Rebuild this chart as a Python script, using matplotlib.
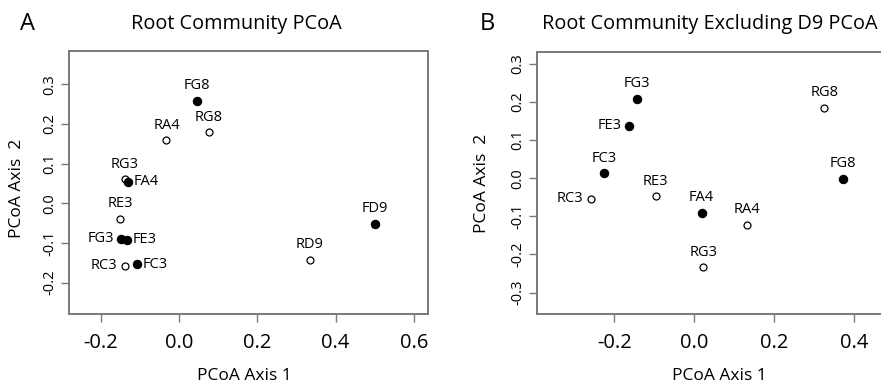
import matplotlib
matplotlib.use("Agg")
import matplotlib.pyplot as plt

plt.rcParams['font.family'] = ['Open Sans', 'DejaVu Sans']

# Panel A data
a_labels = ["FG8", "RG8", "RA4", "RG3", "FA4", "RE3", "FG3", "FE3", "RC3", "FC3", "RD9", "FD9"]
a_x = [0.045, 0.077, -0.032, -0.139, -0.129, -0.150, -0.148, -0.133, -0.139, -0.108, 0.334, 0.501]
a_y = [0.258, 0.179, 0.159, 0.061, 0.054, -0.039, -0.089, -0.092, -0.157, -0.153, -0.142, -0.052]
a_filled = [True, False, False, False, True, False, True, True, False, True, False, True]
a_pos = ["top", "top", "top", "top", "right", "top", "left", "right", "left", "right", "top", "top"]

# Panel B data
b_labels = ["FG3", "FE3", "FC3", "RC3", "RE3", "FA4", "RA4", "RG3", "RG8", "FG8"]
b_x = [-0.143, -0.163, -0.226, -0.259, -0.096, 0.019, 0.133, 0.023, 0.326, 0.372]
b_y = [0.208, 0.138, 0.013, -0.054, -0.047, -0.091, -0.123, -0.234, 0.185, -0.001]
b_filled = [True, True, True, False, False, True, False, False, False, True]
b_pos = ["top", "left", "top", "left", "top", "top", "top", "top", "top", "top"]

a_xticks = [-0.2, 0.0, 0.2, 0.4, 0.6]
a_yticks = [-0.2, -0.1, 0.0, 0.1, 0.2, 0.3]
b_xticks = [-0.2, 0.0, 0.2, 0.4]
b_yticks = [-0.3, -0.2, -0.1, 0.0, 0.1, 0.2, 0.3]

W, H = 881, 386
fig = plt.figure(figsize=(W / 100, H / 100), dpi=100)

box_col = "#7a7a7a"


def make_panel(rect, xs, ys, filled, labels, pos, xlim, ylim, xticks, yticks):
    ax = fig.add_axes(rect)
    for x, y, f, lab, p in zip(xs, ys, filled, labels, pos):
        if f:
            ax.plot([x], [y], marker='o', ms=6.0, mfc='black', mec='black', mew=0.8, ls='none')
        else:
            ax.plot([x], [y], marker='o', ms=5.0, mfc='white', mec='black', mew=0.9, ls='none')
        if p == "top":
            ax.annotate(lab, (x, y), xytext=(0, 5.5), textcoords='offset points',
                        ha='center', va='bottom', fontsize=10.5, color='black')
        elif p == "left":
            ax.annotate(lab, (x, y), xytext=(-5, 0), textcoords='offset points',
                        ha='right', va='center', fontsize=10.5, color='black')
        else:
            ax.annotate(lab, (x, y), xytext=(4, 0), textcoords='offset points',
                        ha='left', va='center', fontsize=10.5, color='black')
    ax.set_xlim(*xlim)
    ax.set_ylim(*ylim)
    ax.set_xticks(xticks)
    ax.set_xticklabels([f"{t:.1f}" for t in xticks], fontsize=14.5)
    ax.set_yticks(yticks)
    ax.set_yticklabels([f"{t:.1f}" for t in yticks], fontsize=10.5, rotation=90, va='center')
    ax.tick_params(direction='out', length=5.5, width=1.0, color=box_col, pad=3)
    ax.tick_params(axis='x', pad=8)
    for s in ax.spines.values():
        s.set_color(box_col)
        s.set_linewidth(1.4)
    return ax


axA = make_panel([69 / W, 1 - 314 / H, (428.3 - 69) / W, (314 - 50.7) / H],
                 a_x, a_y, a_filled, a_labels, a_pos,
                 (-0.281, 0.637), (-0.279, 0.385), a_xticks, a_yticks)
# Panel B box is cut off by the right edge of the figure
axB = make_panel([536.7 / W, 1 - 314.3 / H, (W - 536.7) / W, (314.3 - 51.7) / H],
                 b_x, b_y, b_filled, b_labels, b_pos,
                 (-0.394, 0.468), (-0.357, 0.332), b_xticks, b_yticks)
axB.spines['right'].set_visible(False)

# Titles and panel letters
fig.text(236.7 / W, 1 - 24 / H, "Root Community PCoA", ha='center', va='center', fontsize=14.3)
fig.text(710 / W, 1 - 24 / H, "Root Community Excluding D9 PCoA", ha='center', va='center', fontsize=14.3)
fig.text(27 / W, 1 - 24 / H, "A", ha='center', va='center', fontsize=17)
fig.text(487 / W, 1 - 24 / H, "B", ha='center', va='center', fontsize=17)

# Axis labels
fig.text(244.7 / W, 1 - 376 / H, "PCoA Axis 1", ha='center', va='center', fontsize=12.5)
fig.text(719 / W, 1 - 376 / H, "PCoA Axis 1", ha='center', va='center', fontsize=12.5)
fig.text(17 / W, 1 - 188 / H, "PCoA Axis  2", ha='center', va='center', fontsize=12.5, rotation=90)
fig.text(482 / W, 1 - 183 / H, "PCoA Axis  2", ha='center', va='center', fontsize=12.5, rotation=90)

fig.savefig("out.png", dpi=100)
